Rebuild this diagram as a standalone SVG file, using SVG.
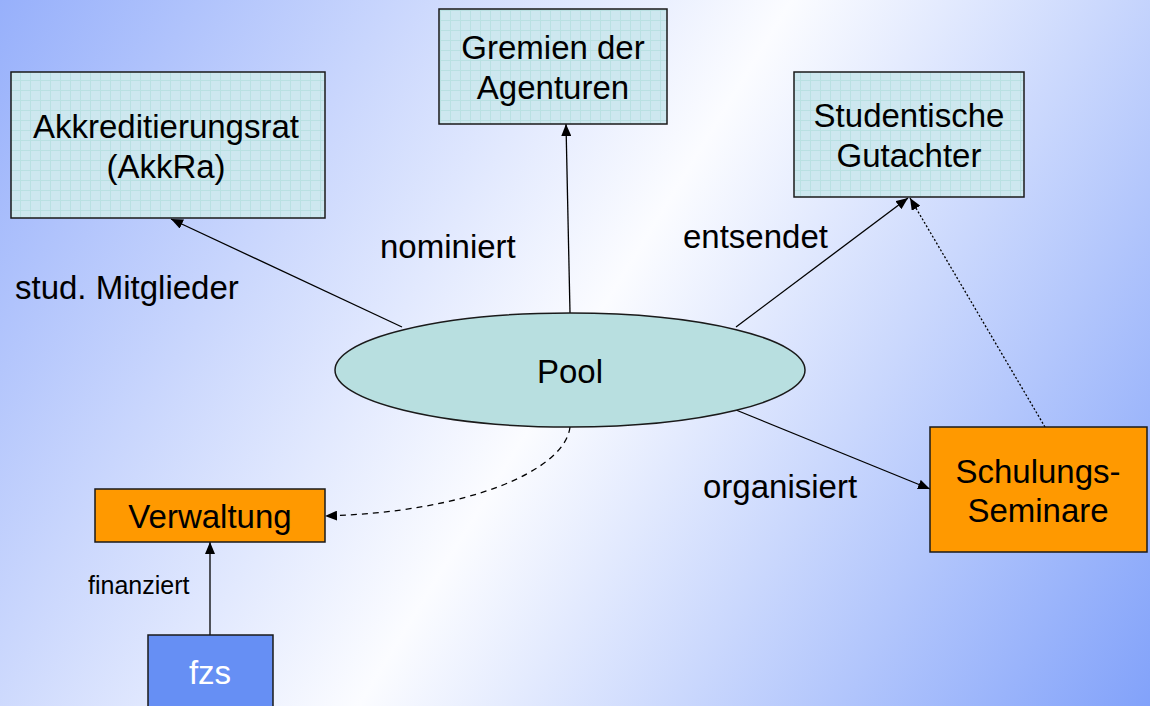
<svg xmlns="http://www.w3.org/2000/svg" width="1150" height="706" viewBox="0 0 1150 706">
<defs>
<linearGradient id="bg" x1="0" y1="0" x2="1150" y2="706" gradientUnits="userSpaceOnUse">
<stop offset="0" stop-color="#97b0fb"/>
<stop offset="0.5" stop-color="#fbfcff"/>
<stop offset="1" stop-color="#82a2fa"/>
</linearGradient>
<pattern id="grid" width="10" height="10" patternUnits="userSpaceOnUse">
<rect width="10" height="10" fill="#cde7ef"/>
<path d="M0 0.5H10M0.5 0V10" stroke="#b9e0e2" stroke-width="1"/>
</pattern>
<marker id="ah" viewBox="0 0 12 10" refX="12" refY="5" markerWidth="12" markerHeight="10" markerUnits="userSpaceOnUse" orient="auto">
<path d="M0 0L12 5L0 10Z" fill="#000"/>
</marker>
<style>
.t{font-family:"Liberation Sans",Arial,sans-serif;font-size:33px;fill:#000;text-anchor:middle}
.l{font-family:"Liberation Sans",Arial,sans-serif;font-size:33px;fill:#000}
.grid{fill:url(#grid);stroke:#1a1a1a;stroke-width:1.5}
.org{fill:#ff9900;stroke:#1a1a1a;stroke-width:1.5}
.c{fill:none;stroke:#000;stroke-width:1.3}
</style>
</defs>
<rect width="1150" height="706" fill="url(#bg)"/>
<g id="connectors">
<line class="c" x1="402" y1="327" x2="171" y2="219" marker-end="url(#ah)"/>
<line class="c" x1="570" y1="313" x2="566" y2="124" marker-end="url(#ah)"/>
<line class="c" x1="736" y1="327" x2="908" y2="198" marker-end="url(#ah)"/>
<line class="c" x1="1045" y1="427" x2="910" y2="198" stroke-dasharray="2,2" marker-end="url(#ah)"/>
<line class="c" x1="736" y1="410" x2="930" y2="489" marker-end="url(#ah)"/>
<path class="c" d="M570 427C565 470 470 512 325 516" stroke-dasharray="6,5" marker-end="url(#ah)"/>
<line class="c" x1="210" y1="635" x2="210" y2="542" marker-end="url(#ah)"/>
</g>
<g id="akkra">
<rect class="grid" x="11" y="72" width="314" height="146"/>
<text class="t" x="166" y="138">Akkreditierungsrat</text>
<text class="t" x="166" y="178">(AkkRa)</text>
</g>
<g id="gremien">
<rect class="grid" x="439" y="9" width="228" height="115"/>
<text class="t" x="553" y="59">Gremien der</text>
<text class="t" x="553" y="99">Agenturen</text>
</g>
<g id="gutachter">
<rect class="grid" x="794" y="72" width="230" height="125"/>
<text class="t" x="909" y="127">Studentische</text>
<text class="t" x="909" y="167">Gutachter</text>
</g>
<g id="pool">
<ellipse cx="570" cy="370" rx="235" ry="57" fill="#b8dfe0" stroke="#1a1a1a" stroke-width="1.5"/>
<text class="t" x="570" y="383">Pool</text>
</g>
<g id="verwaltung">
<rect class="org" x="95" y="489" width="230" height="53"/>
<text class="t" x="210" y="528">Verwaltung</text>
</g>
<g id="fzs">
<rect x="148" y="635" width="125" height="80" fill="#668ff4" stroke="#1a1a1a" stroke-width="1.5"/>
<text class="t" x="210" y="684" style="fill:#fff">fzs</text>
</g>
<g id="seminare">
<rect class="org" x="930" y="427" width="217" height="125"/>
<text class="t" x="1038" y="483">Schulungs-</text>
<text class="t" x="1038" y="522">Seminare</text>
</g>
<g id="labels">
<text class="l" x="15" y="299">stud. Mitglieder</text>
<text class="l" x="380" y="258">nominiert</text>
<text class="l" x="683" y="248">entsendet</text>
<text class="l" x="703" y="498">organisiert</text>
<text class="l" x="88" y="594" style="font-size:25px">finanziert</text>
</g>
</svg>
